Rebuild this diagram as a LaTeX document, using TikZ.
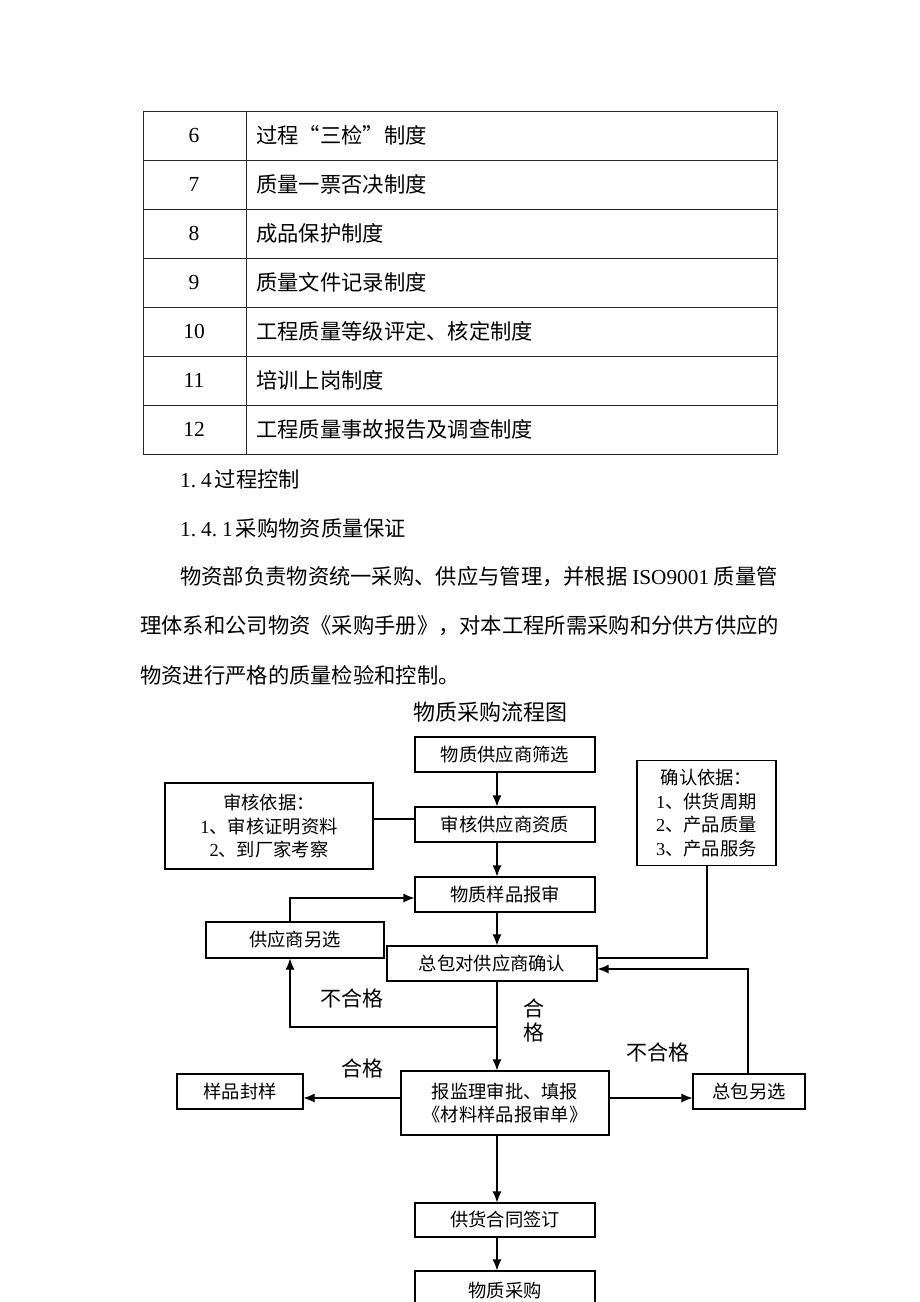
\documentclass[tikz,border=0pt]{standalone}
\usepackage{fontspec}
\setmainfont{Liberation Serif}
\newfontfamily\cjk{Noto Sans CJK SC}
\usetikzlibrary{arrows.meta}
\tikzset{
  box/.style={draw, line width=1.1pt, inner sep=0pt, align=center,
    font=\cjk\fontsize{18.3}{23.5}\selectfont},
  txt/.style={inner sep=0pt, font=\cjk\fontsize{21.3}{25}\selectfont},
  lbl/.style={inner sep=0pt, font=\cjk\fontsize{21}{25}\selectfont},
  num/.style={inner sep=0pt, font=\fontsize{21.5}{24}\selectfont},
  conn/.style={line width=1.1pt},
  arr/.style={line width=1.1pt, -{Latex[length=11pt,width=9pt]}},
  tline/.style={line width=0.9pt, black!85}
}
\begin{document}
\begin{tikzpicture}[x=1pt,y=-1pt]
\useasboundingbox (0,0) rectangle (920,1302);
\clip (0,0) rectangle (920,1302);
% ---- table ----
\draw[tline] (143,111) rectangle (777,454);
\foreach \yy in {160,209,258,307,356,405} \draw[tline] (143,\yy) -- (777,\yy);
\draw[tline] (246,111) -- (246,454);
\node[num] (n6) at (194,135.5) {6};
\node[txt,anchor=west] (t6) at (256,135.5) {过程“三检”制度};
\node[num] (n7) at (194,184.5) {7};
\node[txt,anchor=west] (t7) at (256,184.5) {质量一票否决制度};
\node[num] (n8) at (194,233.5) {8};
\node[txt,anchor=west] (t8) at (256,233.5) {成品保护制度};
\node[num] (n9) at (194,282.5) {9};
\node[txt,anchor=west] (t9) at (256,282.5) {质量文件记录制度};
\node[num] (n10) at (194,331.5) {10};
\node[txt,anchor=west] (t10) at (256,331.5) {工程质量等级评定、核定制度};
\node[num] (n11) at (194,380.5) {11};
\node[txt,anchor=west] (t11) at (256,380.5) {培训上岗制度};
\node[num] (n12) at (194,429.5) {12};
\node[txt,anchor=west] (t12) at (256,429.5) {工程质量事故报告及调查制度};
% ---- text ----
\node[txt,anchor=west] (h1) at (180,479) {{\rmfamily 1.\hspace{5pt}4\hspace{3pt}}过程控制};
\node[txt,anchor=west] (h2) at (180,528) {{\rmfamily 1.\hspace{5pt}4.\hspace{5pt}1\hspace{3pt}}采购物资质量保证};
\node[txt,anchor=west] (p1) at (180,577) {物资部负责物资统一采购、供应与管理，并根据 {\rmfamily ISO9001} 质量管};
\node[txt,anchor=west] (p2) at (140,626) {理体系和公司物资《采购手册》，对本工程所需采购和分供方供应的};
\node[txt,anchor=west] (p3) at (140,675) {物资进行严格的质量检验和控制。};
\node[txt, font=\cjk\fontsize{22}{25}\selectfont] (title) at (490,712) {物质采购流程图};
% ---- flowchart ----
\node[box, minimum width=180pt, minimum height=35pt] (A) at (505,754.5) {物质供应商筛选};
\node[box, minimum width=180pt, minimum height=35pt] (B) at (505,824.5) {审核供应商资质};
\node[box, minimum width=208pt, minimum height=86pt] (C) at (269,826) {审核依据：\\{\rmfamily 1}、审核证明资料\\{\rmfamily 2}、到厂家考察};
\node[box, minimum width=139pt, minimum height=105pt] (D) at (706.5,813) {确认依据：\\{\rmfamily 1}、供货周期\\{\rmfamily 2}、产品质量\\{\rmfamily 3}、产品服务};
\node[box, minimum width=180pt, minimum height=35pt] (E) at (505,894.5) {物质样品报审};
\node[box, minimum width=178pt, minimum height=36pt] (F) at (295,940) {供应商另选};
\node[box, minimum width=210pt, minimum height=35pt] (G) at (492,963.5) {总包对供应商确认};
\node[box, minimum width=208pt, minimum height=64pt] (H) at (505,1103) {报监理审批、填报\\《材料样品报审单》};
\node[box, minimum width=126pt, minimum height=35pt] (I) at (240,1091.5) {样品封样};
\node[box, minimum width=112pt, minimum height=35pt] (J) at (749,1091.5) {总包另选};
\node[box, minimum width=180pt, minimum height=34pt] (K) at (505,1220) {供货合同签订};
\node[box, minimum width=180pt, minimum height=40pt] (L) at (505,1291) {物质采购};
% labels
\node[lbl] (l1) at (352,998) {不合格};
\node[lbl] (l2) at (534,1008) {合};
\node[lbl] (l3) at (534,1033) {格};
\node[lbl] (l4) at (362,1068) {合格};
\node[lbl] (l5) at (658,1052) {不合格};
% helper coordinates
\coordinate (vx) at (497,0);
\coordinate (fx) at (290,0);
\coordinate (dx) at (707,0);
\coordinate (jx) at (748,0);
\coordinate (cy) at (0,819);
\coordinate (fy) at (0,898);
\coordinate (gy1) at (0,958);
\coordinate (gy2) at (0,969);
\coordinate (by) at (0,1027);
\coordinate (hy) at (0,1098);
% connectors
\draw[arr] (A.south -| vx) -- (B.north -| vx);
\draw[conn] (C.east |- cy) -- (B.west |- cy);
\draw[arr] (B.south -| vx) -- (E.north -| vx);
\draw[arr] (E.south -| vx) -- (G.north -| vx);
\draw[arr] (F.north -| fx) |- (E.west |- fy);
\draw[conn] (D.south -| dx) |- (G.east |- gy1);
\draw[arr] (G.south -| vx) -- (H.north -| vx);
\draw[arr] (vx |- by) -| (F.south -| fx);
\draw[arr] (H.west |- hy) -- (I.east |- hy);
\draw[arr] (H.east |- hy) -- (J.west |- hy);
\draw[arr] (J.north -| jx) |- (G.east |- gy2);
\draw[arr] (H.south -| vx) -- (K.north -| vx);
\draw[arr] (K.south -| vx) -- (L.north -| vx);
\end{tikzpicture}
\end{document}
